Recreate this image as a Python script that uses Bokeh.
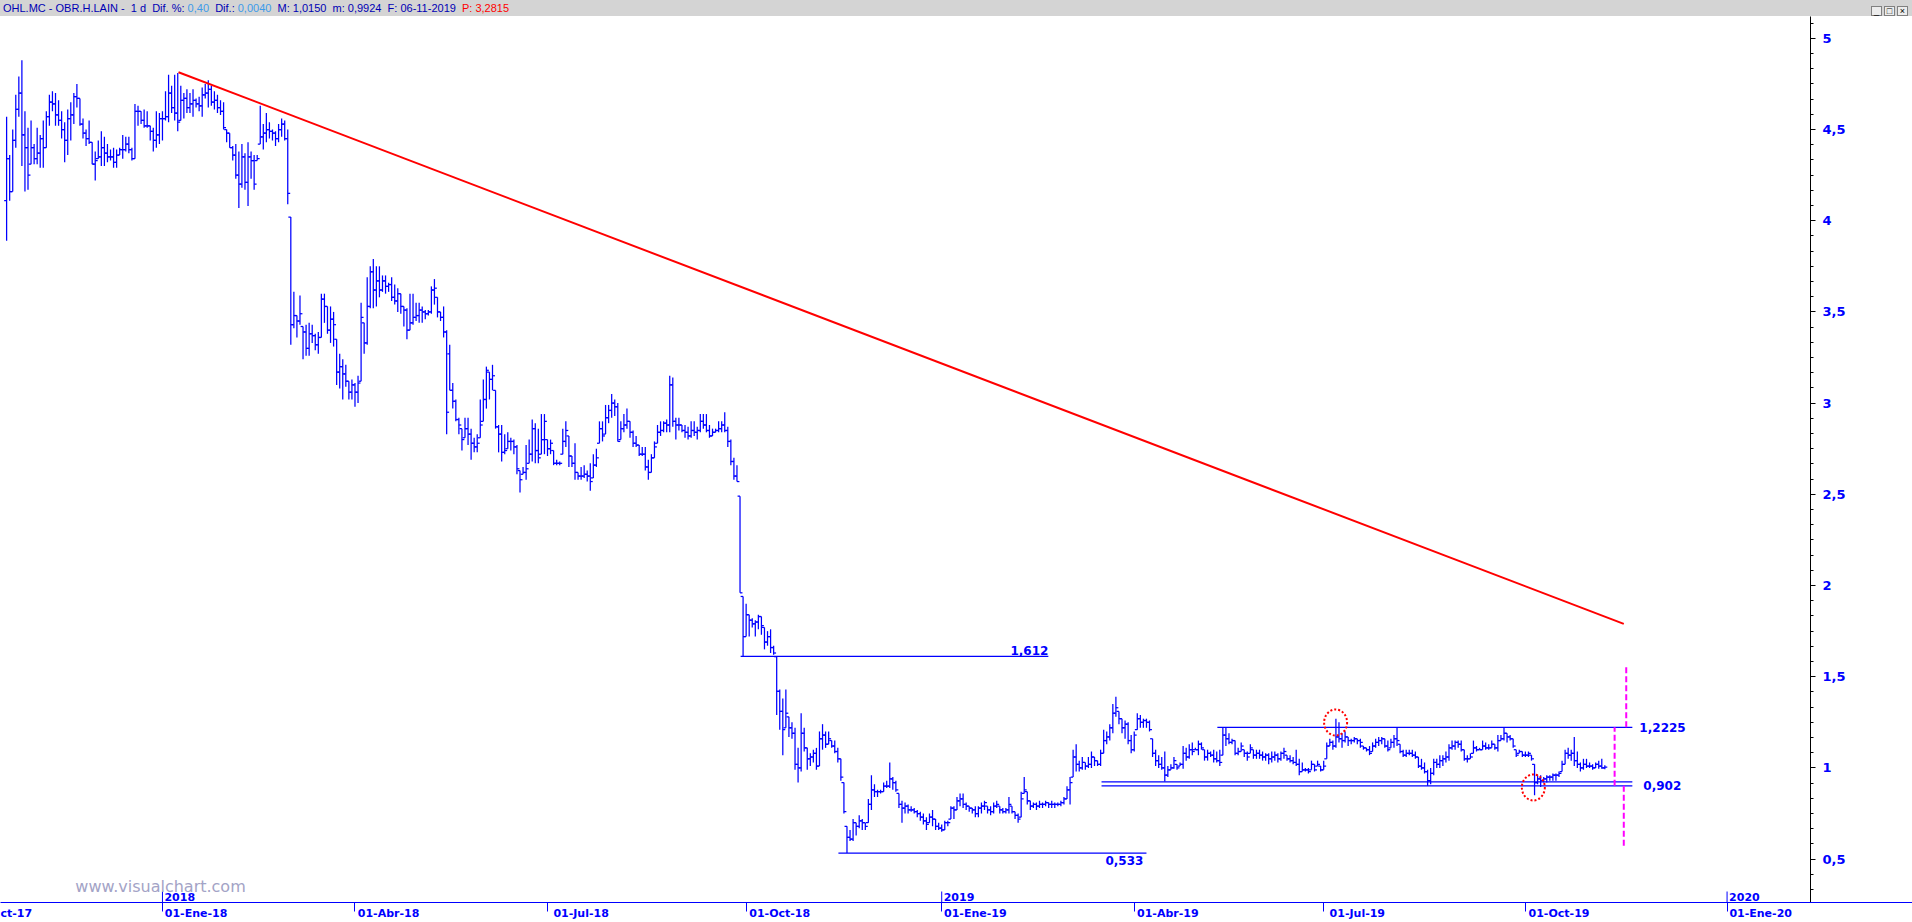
import numpy as np
import pandas as pd
from bokeh.plotting import figure
from bokeh.models import ColumnDataSource, Range1d, LinearAxis, FixedTicker, Div
from bokeh.layouts import column
from bokeh.embed import file_html
from bokeh.resources import INLINE
from bokeh.core.properties import value

# ---------------- data ----------------
first_day = "2017-10-18"
market_holidays = ["2017-12-25", "2017-12-26", "2018-01-01", "2018-03-30", "2018-04-02",
                   "2018-05-01", "2018-12-25", "2018-12-26", "2019-01-01", "2019-04-19",
                   "2019-04-22", "2019-05-01"]

opens = [
    4.11, 4.34, 4.16, 4.44, 4.61, 4.70, 4.47, 4.40, 4.31, 4.40,
    4.34, 4.37, 4.45, 4.40, 4.57, 4.65, 4.64, 4.58, 4.55, 4.50,
    4.44, 4.56, 4.58, 4.68, 4.67, 4.53, 4.48, 4.45, 4.43, 4.31,
    4.34, 4.35, 4.40, 4.37, 4.35, 4.35, 4.32, 4.36, 4.39, 4.39,
    4.42, 4.39, 4.34, 4.60, 4.60, 4.55, 4.52, 4.52, 4.49, 4.44,
    4.47, 4.56, 4.56, 4.57, 4.70, 4.62, 4.59, 4.55, 4.66, 4.67,
    4.62, 4.64, 4.66, 4.64, 4.63, 4.69, 4.70, 4.72, 4.65, 4.66,
    4.62, 4.60, 4.50, 4.48, 4.40, 4.36, 4.25, 4.20, 4.35, 4.21,
    4.35, 4.33, 4.33, 4.42, 4.46, 4.48, 4.50, 4.49, 4.48, 4.45,
    4.50, 4.53, 4.45, 4.02, 3.43, 3.48, 3.45, 3.42, 3.39, 3.30,
    3.38, 3.37, 3.32, 3.36, 3.57, 3.53, 3.40, 3.46, 3.35, 3.17,
    3.20, 3.16, 3.12, 3.06, 3.10, 3.06, 3.12, 3.44, 3.33, 3.53,
    3.72, 3.62, 3.67, 3.62, 3.67, 3.64, 3.65, 3.58, 3.56, 3.60,
    3.53, 3.51, 3.40, 3.44, 3.47, 3.48, 3.51, 3.50, 3.49, 3.50,
    3.62, 3.58, 3.50, 3.47, 3.39, 3.27, 3.07, 3.01, 2.91, 2.86,
    2.81, 2.86, 2.83, 2.78, 2.76, 2.81, 2.90, 3.02, 3.17, 3.13,
    3.07, 2.87, 2.83, 2.73, 2.75, 2.79, 2.79, 2.76, 2.63, 2.61,
    2.62, 2.67, 2.72, 2.86, 2.74, 2.72, 2.80, 2.80, 2.75, 2.74,
    2.67, 2.67, 2.72, 2.79, 2.82, 2.71, 2.67, 2.62, 2.60, 2.60,
    2.61, 2.60, 2.59, 2.66, 2.78, 2.86, 2.83, 2.92, 2.96, 3.00,
    2.98, 2.80, 2.86, 2.88, 2.90, 2.84, 2.78, 2.77, 2.72, 2.72,
    2.65, 2.62, 2.70, 2.78, 2.84, 2.85, 2.89, 2.88, 3.10, 2.90,
    2.88, 2.88, 2.85, 2.84, 2.82, 2.85, 2.84, 2.85, 2.90, 2.88,
    2.85, 2.82, 2.84, 2.85, 2.86, 2.88, 2.85, 2.79, 2.68, 2.60,
    2.49, 1.94, 1.72, 1.84, 1.81, 1.79, 1.80, 1.83, 1.77, 1.69,
    1.72, 1.66, 1.61, 1.42, 1.31, 1.22, 1.28, 1.22, 1.19, 1.02,
    1.00, 1.19, 1.11, 1.05, 1.06, 1.08, 1.01, 1.16, 1.18, 1.13,
    1.15, 1.12, 1.09, 1.05, 0.92, 0.68, 0.62, 0.61, 0.70, 0.68,
    0.71, 0.70, 0.70, 0.80, 0.88, 0.87, 0.87, 0.87, 0.90, 0.90,
    0.94, 0.92, 0.86, 0.80, 0.78, 0.79, 0.77, 0.77, 0.76, 0.75,
    0.73, 0.71, 0.70, 0.73, 0.72, 0.68, 0.67, 0.66, 0.70, 0.72,
    0.78, 0.77, 0.82, 0.83, 0.80, 0.79, 0.78, 0.77, 0.75, 0.78,
    0.79, 0.79, 0.77, 0.76, 0.79, 0.79, 0.77, 0.76, 0.77, 0.79,
    0.76, 0.74, 0.73, 0.86, 0.87, 0.82, 0.79, 0.80, 0.79, 0.80,
    0.80, 0.81, 0.80, 0.80, 0.80, 0.80, 0.81, 0.83, 0.88, 0.95,
    1.06, 1.02, 1.00, 1.03, 1.01, 1.02, 1.06, 1.04, 1.02, 1.08,
    1.15, 1.17, 1.22, 1.30, 1.31, 1.27, 1.22, 1.24, 1.15, 1.10,
    1.21, 1.27, 1.25, 1.26, 1.25, 1.16, 1.08, 1.04, 1.02, 1.00,
    0.96, 0.99, 1.00, 1.02, 1.01, 1.02, 1.08, 1.06, 1.10, 1.10,
    1.10, 1.13, 1.10, 1.06, 1.08, 1.07, 1.05, 1.04, 1.07, 1.18,
    1.16, 1.14, 1.15, 1.08, 1.09, 1.10, 1.08, 1.08, 1.10, 1.07,
    1.08, 1.07, 1.06, 1.07, 1.05, 1.06, 1.07, 1.05, 1.08, 1.07,
    1.05, 1.04, 1.03, 1.02, 0.98, 0.99, 0.99, 0.99, 1.02, 1.01,
    1.01, 0.99, 1.05, 1.12, 1.14, 1.12, 1.17, 1.16, 1.15, 1.17,
    1.15, 1.15, 1.16, 1.15, 1.12, 1.11, 1.10, 1.09, 1.12, 1.14,
    1.15, 1.16, 1.12, 1.11, 1.14, 1.16, 1.13, 1.09, 1.07, 1.08,
    1.08, 1.07, 1.06, 1.01, 1.00, 0.98, 0.93, 0.97, 1.03, 1.02,
    1.04, 1.05, 1.06, 1.11, 1.12, 1.14, 1.13, 1.10, 1.05, 1.05,
    1.08, 1.11, 1.10, 1.10, 1.12, 1.11, 1.11, 1.13, 1.11, 1.15,
    1.16, 1.19, 1.17, 1.16, 1.10, 1.08, 1.09, 1.07, 1.07, 1.07,
    1.02, 0.92, 0.94, 0.93, 0.94, 0.95, 0.95, 0.96, 0.96, 0.98,
    1.02, 1.08, 1.07, 1.08, 1.04, 1.02, 1.00, 1.02, 1.01, 1.01,
    1.00, 1.02, 1.01, 1.00,
]

highs = [
    4.57, 4.36, 4.50, 4.69, 4.79, 4.88, 4.60, 4.51, 4.55, 4.42,
    4.51, 4.47, 4.55, 4.60, 4.69, 4.71, 4.70, 4.66, 4.60, 4.54,
    4.61, 4.65, 4.70, 4.75, 4.67, 4.56, 4.50, 4.55, 4.43, 4.38,
    4.44, 4.49, 4.46, 4.42, 4.39, 4.40, 4.39, 4.40, 4.47, 4.46,
    4.46, 4.40, 4.64, 4.63, 4.60, 4.61, 4.60, 4.52, 4.51, 4.60,
    4.59, 4.60, 4.71, 4.80, 4.74, 4.80, 4.81, 4.74, 4.70, 4.72,
    4.70, 4.72, 4.67, 4.68, 4.73, 4.75, 4.77, 4.74, 4.71, 4.69,
    4.66, 4.65, 4.50, 4.48, 4.41, 4.42, 4.38, 4.42, 4.37, 4.43,
    4.38, 4.36, 4.36, 4.63, 4.53, 4.59, 4.54, 4.50, 4.49, 4.53,
    4.56, 4.55, 4.50, 4.02, 3.61, 3.48, 3.59, 3.42, 3.43, 3.44,
    3.43, 3.38, 3.39, 3.60, 3.60, 3.53, 3.53, 3.50, 3.35, 3.27,
    3.24, 3.21, 3.12, 3.13, 3.11, 3.15, 3.55, 3.44, 3.69, 3.75,
    3.79, 3.75, 3.75, 3.70, 3.70, 3.66, 3.69, 3.65, 3.63, 3.60,
    3.53, 3.52, 3.60, 3.60, 3.55, 3.55, 3.53, 3.51, 3.51, 3.64,
    3.68, 3.58, 3.50, 3.53, 3.40, 3.32, 3.11, 3.02, 2.92, 2.86,
    2.92, 2.92, 2.86, 2.81, 2.83, 3.02, 3.13, 3.20, 3.17, 3.21,
    3.07, 2.88, 2.88, 2.83, 2.84, 2.81, 2.80, 2.77, 2.63, 2.65,
    2.77, 2.80, 2.91, 2.89, 2.86, 2.94, 2.94, 2.80, 2.80, 2.74,
    2.69, 2.68, 2.86, 2.90, 2.82, 2.71, 2.78, 2.62, 2.65, 2.66,
    2.63, 2.67, 2.72, 2.75, 2.90, 2.90, 2.99, 2.99, 3.05, 3.02,
    3.00, 2.90, 2.94, 2.97, 2.90, 2.85, 2.82, 2.77, 2.76, 2.76,
    2.69, 2.72, 2.79, 2.88, 2.90, 2.90, 2.91, 3.15, 3.14, 2.92,
    2.92, 2.88, 2.88, 2.87, 2.90, 2.90, 2.87, 2.94, 2.94, 2.94,
    2.88, 2.86, 2.86, 2.90, 2.90, 2.95, 2.87, 2.80, 2.70, 2.66,
    2.49, 1.94, 1.90, 1.84, 1.82, 1.81, 1.84, 1.83, 1.77, 1.75,
    1.76, 1.67, 1.61, 1.43, 1.38, 1.43, 1.28, 1.25, 1.22, 1.11,
    1.30, 1.22, 1.11, 1.08, 1.10, 1.11, 1.20, 1.24, 1.20, 1.20,
    1.15, 1.15, 1.11, 1.05, 0.92, 0.68, 0.66, 0.72, 0.70, 0.74,
    0.72, 0.70, 0.83, 0.96, 0.91, 0.88, 0.88, 0.92, 0.93, 1.03,
    0.95, 0.93, 0.86, 0.82, 0.81, 0.80, 0.79, 0.78, 0.77, 0.76,
    0.75, 0.73, 0.75, 0.77, 0.72, 0.70, 0.69, 0.71, 0.71, 0.79,
    0.79, 0.84, 0.86, 0.86, 0.81, 0.79, 0.78, 0.79, 0.79, 0.81,
    0.82, 0.79, 0.79, 0.81, 0.82, 0.79, 0.78, 0.78, 0.84, 0.79,
    0.76, 0.75, 0.87, 0.95, 0.87, 0.82, 0.81, 0.81, 0.82, 0.81,
    0.82, 0.81, 0.82, 0.81, 0.81, 0.82, 0.84, 0.90, 0.95, 1.10,
    1.13, 1.04, 1.06, 1.03, 1.06, 1.09, 1.06, 1.04, 1.10, 1.21,
    1.20, 1.24, 1.35, 1.39, 1.31, 1.27, 1.26, 1.25, 1.18, 1.20,
    1.30, 1.29, 1.27, 1.27, 1.26, 1.16, 1.10, 1.07, 1.06, 1.09,
    1.01, 1.02, 1.06, 1.02, 1.03, 1.12, 1.11, 1.13, 1.14, 1.11,
    1.15, 1.14, 1.10, 1.10, 1.09, 1.10, 1.09, 1.10, 1.2225, 1.22,
    1.19, 1.16, 1.15, 1.11, 1.14, 1.10, 1.09, 1.13, 1.10, 1.10,
    1.10, 1.09, 1.08, 1.08, 1.09, 1.09, 1.08, 1.09, 1.11, 1.07,
    1.07, 1.06, 1.10, 1.05, 1.03, 1.00, 1.00, 1.04, 1.02, 1.04,
    1.01, 1.04, 1.14, 1.16, 1.15, 1.27, 1.25, 1.19, 1.20, 1.17,
    1.16, 1.17, 1.16, 1.16, 1.12, 1.11, 1.12, 1.14, 1.16, 1.17,
    1.17, 1.16, 1.15, 1.16, 1.18, 1.2225, 1.13, 1.10, 1.10, 1.10,
    1.10, 1.09, 1.06, 1.05, 1.03, 0.99, 1.00, 1.05, 1.05, 1.07,
    1.07, 1.09, 1.13, 1.15, 1.15, 1.15, 1.15, 1.10, 1.07, 1.08,
    1.15, 1.12, 1.11, 1.15, 1.14, 1.13, 1.15, 1.13, 1.18, 1.18,
    1.2225, 1.19, 1.18, 1.16, 1.10, 1.10, 1.09, 1.09, 1.09, 1.07,
    1.02, 0.96, 0.96, 0.95, 0.96, 0.96, 0.97, 0.97, 0.98, 1.04,
    1.10, 1.11, 1.10, 1.17, 1.09, 1.03, 1.05, 1.05, 1.03, 1.02,
    1.03, 1.04, 1.05, 1.015,
]

lows = [
    3.89, 4.11, 4.16, 4.40, 4.57, 4.30, 4.16, 4.17, 4.31, 4.31,
    4.31, 4.29, 4.29, 4.40, 4.52, 4.60, 4.52, 4.52, 4.45, 4.32,
    4.36, 4.44, 4.53, 4.62, 4.52, 4.45, 4.41, 4.42, 4.31, 4.22,
    4.34, 4.30, 4.30, 4.32, 4.33, 4.29, 4.29, 4.36, 4.34, 4.38,
    4.37, 4.33, 4.34, 4.52, 4.53, 4.51, 4.51, 4.44, 4.38, 4.40,
    4.42, 4.44, 4.55, 4.54, 4.59, 4.55, 4.49, 4.55, 4.56, 4.59,
    4.59, 4.57, 4.62, 4.60, 4.57, 4.67, 4.62, 4.63, 4.61, 4.59,
    4.58, 4.50, 4.43, 4.40, 4.33, 4.23, 4.07, 4.18, 4.17, 4.08,
    4.23, 4.17, 4.33, 4.42, 4.39, 4.43, 4.45, 4.44, 4.41, 4.43,
    4.46, 4.44, 4.09, 3.32, 3.41, 3.36, 3.43, 3.24, 3.26, 3.26,
    3.33, 3.29, 3.27, 3.36, 3.44, 3.38, 3.33, 3.31, 3.10, 3.08,
    3.02, 3.09, 3.02, 3.02, 2.98, 3.00, 3.12, 3.27, 3.32, 3.52,
    3.52, 3.53, 3.58, 3.61, 3.60, 3.61, 3.56, 3.54, 3.50, 3.49,
    3.42, 3.35, 3.40, 3.43, 3.45, 3.44, 3.44, 3.46, 3.48, 3.49,
    3.54, 3.47, 3.45, 3.36, 2.83, 3.07, 2.97, 2.90, 2.83, 2.74,
    2.81, 2.77, 2.69, 2.73, 2.73, 2.81, 2.90, 2.97, 3.02, 3.07,
    2.86, 2.73, 2.68, 2.72, 2.75, 2.74, 2.72, 2.61, 2.51, 2.61,
    2.58, 2.67, 2.68, 2.67, 2.67, 2.72, 2.72, 2.71, 2.72, 2.66,
    2.66, 2.66, 2.72, 2.76, 2.65, 2.65, 2.58, 2.58, 2.58, 2.59,
    2.57, 2.52, 2.59, 2.65, 2.78, 2.79, 2.83, 2.89, 2.92, 2.93,
    2.79, 2.80, 2.84, 2.86, 2.81, 2.76, 2.76, 2.71, 2.71, 2.63,
    2.58, 2.62, 2.70, 2.78, 2.82, 2.84, 2.84, 2.84, 2.87, 2.80,
    2.85, 2.84, 2.81, 2.80, 2.81, 2.82, 2.80, 2.84, 2.86, 2.84,
    2.81, 2.82, 2.84, 2.84, 2.84, 2.84, 2.76, 2.66, 2.58, 2.57,
    1.96, 1.612, 1.72, 1.72, 1.77, 1.72, 1.76, 1.73, 1.65, 1.67,
    1.63, 1.62, 1.29, 1.21, 1.07, 1.22, 1.17, 1.16, 0.99, 0.92,
    0.98, 1.09, 0.99, 1.01, 1.03, 0.99, 1.01, 1.10, 1.11, 1.13,
    1.11, 1.08, 1.03, 0.93, 0.75, 0.533, 0.60, 0.60, 0.63, 0.67,
    0.66, 0.66, 0.70, 0.77, 0.84, 0.84, 0.86, 0.87, 0.89, 0.89,
    0.88, 0.87, 0.78, 0.70, 0.75, 0.75, 0.76, 0.75, 0.73, 0.71,
    0.69, 0.66, 0.70, 0.68, 0.66, 0.66, 0.65, 0.66, 0.68, 0.72,
    0.72, 0.77, 0.79, 0.78, 0.77, 0.76, 0.75, 0.73, 0.73, 0.75,
    0.77, 0.75, 0.74, 0.75, 0.78, 0.75, 0.75, 0.75, 0.75, 0.75,
    0.72, 0.70, 0.73, 0.86, 0.80, 0.77, 0.78, 0.77, 0.78, 0.78,
    0.79, 0.78, 0.78, 0.78, 0.79, 0.79, 0.80, 0.83, 0.80, 0.95,
    0.98, 0.98, 0.99, 0.99, 1.00, 1.00, 1.01, 1.01, 1.01, 1.08,
    1.13, 1.15, 1.19, 1.28, 1.24, 1.19, 1.16, 1.13, 1.08, 1.09,
    1.21, 1.22, 1.22, 1.22, 1.20, 1.06, 1.01, 1.00, 0.99, 0.925,
    0.95, 0.99, 0.995, 0.99, 1.01, 0.995, 1.04, 1.05, 1.07, 1.10,
    1.07, 1.10, 1.04, 1.04, 1.06, 1.03, 1.03, 1.01, 1.07, 1.12,
    1.13, 1.13, 1.07, 1.07, 1.09, 1.06, 1.04, 1.08, 1.05, 1.05,
    1.05, 1.04, 1.04, 1.02, 1.03, 1.04, 1.03, 1.04, 1.05, 1.04,
    1.03, 1.02, 1.01, 0.96, 0.98, 0.98, 0.97, 0.99, 0.98, 1.01,
    0.98, 0.99, 1.05, 1.12, 1.10, 1.11, 1.14, 1.11, 1.14, 1.12,
    1.13, 1.14, 1.13, 1.11, 1.10, 1.09, 1.07, 1.09, 1.11, 1.12,
    1.13, 1.11, 1.09, 1.11, 1.11, 1.12, 1.08, 1.06, 1.06, 1.07,
    1.06, 1.05, 1.00, 0.99, 0.97, 0.902, 0.91, 0.96, 1.00, 1.00,
    1.01, 1.03, 1.04, 1.10, 1.10, 1.11, 1.09, 1.04, 1.03, 1.05,
    1.08, 1.09, 1.10, 1.10, 1.10, 1.10, 1.11, 1.10, 1.09, 1.15,
    1.15, 1.14, 1.15, 1.11, 1.06, 1.08, 1.06, 1.06, 1.06, 1.04,
    0.85, 0.91, 0.895, 0.92, 0.92, 0.93, 0.93, 0.93, 0.95, 0.98,
    1.02, 1.05, 1.04, 1.01, 1.00, 0.98, 0.99, 1.00, 1.00, 0.99,
    1.00, 0.995, 0.995, 0.9924,
]

closes = [
    4.34, 4.16, 4.44, 4.61, 4.70, 4.47, 4.40, 4.25, 4.40, 4.34,
    4.37, 4.45, 4.40, 4.57, 4.65, 4.64, 4.58, 4.55, 4.50, 4.44,
    4.56, 4.58, 4.68, 4.67, 4.53, 4.48, 4.45, 4.43, 4.31, 4.33,
    4.35, 4.40, 4.37, 4.35, 4.35, 4.32, 4.36, 4.39, 4.39, 4.42,
    4.39, 4.34, 4.60, 4.60, 4.55, 4.52, 4.52, 4.49, 4.44, 4.47,
    4.56, 4.56, 4.57, 4.70, 4.62, 4.59, 4.54, 4.66, 4.67, 4.62,
    4.64, 4.66, 4.64, 4.63, 4.69, 4.70, 4.72, 4.65, 4.66, 4.62,
    4.60, 4.51, 4.48, 4.40, 4.36, 4.25, 4.20, 4.35, 4.21, 4.35,
    4.33, 4.20, 4.34, 4.46, 4.48, 4.50, 4.49, 4.48, 4.45, 4.50,
    4.53, 4.45, 4.15, 3.43, 3.48, 3.45, 3.49, 3.39, 3.30, 3.38,
    3.37, 3.32, 3.36, 3.57, 3.53, 3.40, 3.46, 3.43, 3.17, 3.20,
    3.16, 3.12, 3.06, 3.10, 3.06, 3.11, 3.47, 3.33, 3.53, 3.72,
    3.62, 3.67, 3.62, 3.67, 3.64, 3.65, 3.58, 3.56, 3.60, 3.53,
    3.51, 3.40, 3.44, 3.47, 3.48, 3.51, 3.50, 3.49, 3.50, 3.62,
    3.63, 3.50, 3.47, 3.39, 2.95, 3.07, 3.01, 2.91, 2.88, 2.80,
    2.86, 2.83, 2.78, 2.76, 2.78, 2.88, 3.02, 3.18, 3.13, 3.15,
    2.87, 2.83, 2.73, 2.74, 2.79, 2.79, 2.76, 2.64, 2.58, 2.62,
    2.64, 2.72, 2.86, 2.74, 2.70, 2.80, 2.90, 2.75, 2.78, 2.67,
    2.67, 2.67, 2.79, 2.85, 2.71, 2.67, 2.62, 2.60, 2.60, 2.61,
    2.60, 2.57, 2.66, 2.70, 2.86, 2.82, 2.92, 2.96, 3.00, 2.98,
    2.79, 2.86, 2.88, 2.90, 2.84, 2.78, 2.77, 2.72, 2.72, 2.65,
    2.62, 2.70, 2.76, 2.84, 2.85, 2.89, 2.88, 3.10, 2.90, 2.88,
    2.88, 2.85, 2.84, 2.82, 2.85, 2.84, 2.85, 2.90, 2.88, 2.85,
    2.82, 2.84, 2.85, 2.86, 2.88, 2.85, 2.79, 2.68, 2.60, 2.57,
    1.96, 1.72, 1.84, 1.81, 1.79, 1.80, 1.83, 1.78, 1.69, 1.72,
    1.66, 1.63, 1.42, 1.31, 1.21, 1.30, 1.22, 1.19, 1.02, 1.00,
    1.19, 1.11, 1.05, 1.06, 1.08, 1.01, 1.16, 1.18, 1.13, 1.16,
    1.12, 1.09, 1.05, 0.95, 0.76, 0.62, 0.61, 0.70, 0.68, 0.71,
    0.70, 0.68, 0.80, 0.88, 0.87, 0.87, 0.87, 0.90, 0.90, 0.94,
    0.92, 0.88, 0.80, 0.78, 0.79, 0.77, 0.77, 0.76, 0.75, 0.73,
    0.71, 0.69, 0.73, 0.72, 0.68, 0.67, 0.66, 0.70, 0.70, 0.78,
    0.77, 0.82, 0.83, 0.80, 0.79, 0.78, 0.77, 0.75, 0.78, 0.79,
    0.81, 0.77, 0.76, 0.79, 0.80, 0.77, 0.76, 0.77, 0.80, 0.76,
    0.74, 0.72, 0.83, 0.88, 0.82, 0.79, 0.80, 0.79, 0.80, 0.80,
    0.81, 0.80, 0.80, 0.80, 0.80, 0.81, 0.83, 0.88, 0.92, 1.06,
    1.02, 1.00, 1.03, 1.01, 1.02, 1.06, 1.04, 1.02, 1.08, 1.15,
    1.17, 1.22, 1.30, 1.33, 1.27, 1.22, 1.24, 1.15, 1.10, 1.18,
    1.27, 1.25, 1.26, 1.25, 1.21, 1.08, 1.04, 1.02, 1.00, 0.96,
    0.99, 1.00, 1.04, 1.00, 1.02, 1.08, 1.06, 1.10, 1.09, 1.10,
    1.13, 1.11, 1.06, 1.08, 1.07, 1.05, 1.04, 1.03, 1.18, 1.16,
    1.14, 1.15, 1.08, 1.09, 1.12, 1.08, 1.06, 1.11, 1.07, 1.08,
    1.07, 1.06, 1.07, 1.05, 1.06, 1.07, 1.05, 1.08, 1.09, 1.05,
    1.04, 1.03, 1.02, 0.98, 0.99, 0.99, 0.98, 1.02, 0.99, 1.02,
    0.99, 1.01, 1.12, 1.14, 1.12, 1.17, 1.16, 1.15, 1.17, 1.15,
    1.15, 1.16, 1.15, 1.14, 1.11, 1.10, 1.08, 1.12, 1.14, 1.15,
    1.16, 1.12, 1.10, 1.14, 1.16, 1.15, 1.09, 1.07, 1.08, 1.08,
    1.07, 1.06, 1.01, 1.00, 0.98, 0.93, 0.97, 1.03, 1.02, 1.04,
    1.05, 1.06, 1.11, 1.12, 1.14, 1.13, 1.10, 1.05, 1.05, 1.06,
    1.11, 1.10, 1.10, 1.12, 1.11, 1.11, 1.13, 1.11, 1.15, 1.16,
    1.19, 1.17, 1.16, 1.12, 1.07, 1.09, 1.07, 1.07, 1.08, 1.05,
    0.92, 0.94, 0.93, 0.94, 0.95, 0.95, 0.96, 0.96, 0.97, 1.02,
    1.08, 1.07, 1.08, 1.04, 1.02, 1.00, 1.02, 1.01, 1.01, 1.00,
    1.02, 1.01, 1.00, 1.004,
]

# axis ticks / labels (the first one is cut by the window edge in the picture)
quarter_starts = ["2017-10-01", "2018-01-01", "2018-04-01", "2018-07-01", "2018-10-01",
                  "2019-01-01", "2019-04-01", "2019-07-01", "2019-10-01", "2020-01-01"]
quarter_labels = ["ct-17", "01-Ene-18", "01-Abr-18", "01-Jul-18", "01-Oct-18",
                  "01-Ene-19", "01-Abr-19", "01-Jul-19", "01-Oct-19", "01-Ene-20"]
year_starts = ["2018-01-01", "2019-01-01", "2020-01-01"]
year_labels = ["2018", "2019", "2020"]
y_tick_values = [0.5, 1, 1.5, 2, 2.5, 3, 3.5, 4, 4.5, 5]
y_tick_labels = ["0,5", "1", "1,5", "2", "2,5", "3", "3,5", "4", "4,5", "5"]

# drawn studies (bar index, price)
trend_x = [56.25, 529.2]
trend_y = [4.814, 1.790]
level_y = [1.612, 0.533, 1.2225, 0.924, 0.902]
level_x0 = [240.2, 272.2, 396.2, 358.3, 358.3]
level_x1 = [340.9, 373.0, 532.0, 532.0, 532.0]
proj_x = [530.0, 526.2, 529.2]
proj_y0 = [1.2225, 0.902, 0.902]
proj_y1 = [1.553, 1.2225, 0.573]
circle_x = [434.9, 499.6]
circle_y = [1.249, 0.893]

header_symbol = "OHL.MC - OBR.H.LAIN -  1 d"
header_difpct = "0,40"
header_dif = "0,0040"
header_rest = "M: 1,0150  m: 0,9924  F: 06-11-2019"
header_p = "P: 3,2815"

# ---------------- calendar -> bar index ----------------
cal = pd.bdate_range("2017-10-02", "2020-02-28", freq="C", holidays=market_holidays)
start_pos = int(cal.searchsorted(pd.Timestamp(first_day)))


def day_index(d):
    return int(cal.searchsorted(pd.Timestamp(d))) - start_pos


q_idx = [day_index(d) for d in quarter_starts]
yr_idx = [day_index(d) for d in year_starts]

BLUE = "#0000ff"
FONT = "DejaVu Sans"
X0, X1 = -2.0, 590.3
Y0, Y1 = 0.2623, 5.1195
FRAME_W, FRAME_H = 1810, 886
HEADER_H = 16
py = (Y1 - Y0) / FRAME_H  # price per pixel

p = figure(frame_width=FRAME_W, frame_height=FRAME_H,
           x_range=Range1d(X0, X1), y_range=Range1d(Y0, Y1),
           x_axis_type=None, y_axis_location="right",
           output_backend="svg", toolbar_location=None,
           min_border_left=0, min_border_top=0, min_border_right=102, min_border_bottom=0,
           outline_line_color=None, background_fill_color="white", border_fill_color="white")
p.grid.visible = False

# y axis (right)
yax = p.yaxis[0]
minor = list(np.round(np.arange(0.5 - 2 / 12, 5.12, 1 / 12), 5))
yax.ticker = FixedTicker(ticks=y_tick_values, minor_ticks=minor)
yax.major_label_overrides = dict(zip(y_tick_values, y_tick_labels))
yax.axis_line_color = "black"
yax.major_tick_line_color = "black"
yax.minor_tick_line_color = "black"
yax.major_tick_out = 5
yax.major_tick_in = 0
yax.minor_tick_out = 3
yax.minor_tick_in = 0
yax.major_label_standoff = 7
yax.major_label_text_font = FONT
yax.major_label_text_font_style = "bold"
yax.major_label_text_font_size = "13px"
yax.major_label_text_color = BLUE

# x axis: line + quarter ticks (no labels on this one)
ax1 = LinearAxis(ticker=FixedTicker(ticks=q_idx, minor_ticks=[]),
                 axis_line_color=BLUE, axis_line_width=1,
                 major_tick_line_color=BLUE, major_tick_out=9, major_tick_in=0,
                 minor_tick_line_color=None, major_label_text_font_size="1px",
                 major_label_text_color=None, major_label_standoff=0)
p.add_layout(ax1, "below")
# x axis labels, starting at their tick
shift = 11
lab_ticks = [q + shift for q in q_idx]
ax2 = LinearAxis(ticker=FixedTicker(ticks=lab_ticks, minor_ticks=[]),
                 major_label_overrides=dict(zip(lab_ticks, quarter_labels)),
                 axis_line_color=None, major_tick_line_color=None, minor_tick_line_color=None,
                 major_tick_out=0, major_tick_in=0, major_label_standoff=-5,
                 major_label_text_font=FONT, major_label_text_font_style="bold",
                 major_label_text_font_size="11px", major_label_text_color=BLUE)
p.add_layout(ax2, "below")

# OHLC bars
x = np.arange(len(closes))
src = ColumnDataSource(dict(x=x, xl=x - 0.8, xr=x + 0.8, o=opens, h=highs, l=lows, c=closes))
p.segment(x0="x", y0="l", x1="x", y1="h", source=src, line_color=BLUE, line_width=1.25)
p.segment(x0="xl", y0="o", x1="x", y1="o", source=src, line_color=BLUE, line_width=1.25)
p.segment(x0="x", y0="c", x1="xr", y1="c", source=src, line_color=BLUE, line_width=1.25)

# support / resistance levels
p.segment(x0=level_x0, y0=level_y, x1=level_x1, y1=level_y, line_color=BLUE, line_width=1.2)

lab_kw = dict(text_font=value(FONT), text_font_style="bold", text_font_size="12px", text_color=BLUE)
p.text(x=[level_x1[0]], y=[level_y[0]], text=["1,612"], text_align="right",
       text_baseline="bottom", y_offset=-1, **lab_kw)
p.text(x=[372.0], y=[level_y[1]], text=["0,533"], text_align="right",
       text_baseline="top", y_offset=3, **lab_kw)
p.text(x=[534.3, 535.6], y=[level_y[2], level_y[4]], text=["1,2225", "0,902"],
       text_align="left", text_baseline="middle", **lab_kw)

# trend line
p.line(x=trend_x, y=trend_y, line_color="#ff0000", line_width=2)

# measured-move projections
p.segment(x0=proj_x, y0=proj_y0, x1=proj_x, y1=proj_y1, line_color="#ff00ff",
          line_width=2, line_dash="6 3")

# highlight circles
p.ellipse(x=circle_x, y=circle_y, width=23, height=26, width_units="screen",
          height_units="screen", fill_color=None, line_color="#ff0000",
          line_width=2, line_dash="2 2")

# year markers on the axis line
p.segment(x0=yr_idx, y0=[Y0] * len(yr_idx), x1=yr_idx, y1=[Y0 + 11 * py] * len(yr_idx),
          line_color=BLUE, line_width=1)
p.text(x=yr_idx, y=[Y0] * len(yr_idx), text=year_labels, x_offset=2, y_offset=-2,
       text_align="left", text_baseline="bottom", text_font=value(FONT),
       text_font_style="bold", text_font_size="11px", text_color=BLUE)

# watermark
p.text(x=[22.5], y=[Y0 + 16 * py], text=["www.visualchart.com"], text_align="left",
       text_baseline="middle", text_font=value(FONT), text_font_size="16px",
       text_color="#a3a3c6")

# window header (+ the time-axis line continuing under the price scale)
dark, light, red = "#0000b4", "#3d9be9", "#ff0000"
btn = ("display:inline-block;width:11px;height:10px;margin-left:2px;border:1px solid #808080;"
       "background:#ececec;font-size:9px;line-height:9px;text-align:center;color:#000;")
header_html = (
    f'<div style="position:relative;width:1912px;height:{HEADER_H}px;background:#d4d4d4;'
    "font-family:'Liberation Sans',Arial,sans-serif;font-size:11px;line-height:16px;"
    'white-space:pre;">'
    '<span style="position:absolute;left:3px;top:0px;">'
    f'<span style="color:{dark}">{header_symbol}  Dif. %: </span>'
    f'<span style="color:{light}">{header_difpct}</span>'
    f'<span style="color:{dark}">  Dif.: </span>'
    f'<span style="color:{light}">{header_dif}</span>'
    f'<span style="color:{dark}">  {header_rest}  </span>'
    f'<span style="color:{red}">{header_p}</span></span>'
    '<span style="position:absolute;left:1869px;top:2px;">'
    f'<span style="{btn}">_</span><span style="{btn}">&#9633;</span>'
    f'<span style="{btn}">&#215;</span></span>'
    f'<div style="position:absolute;left:{FRAME_W}px;top:{HEADER_H + FRAME_H}px;'
    f'width:{1912 - FRAME_W}px;height:1px;background:{BLUE};z-index:50;"></div>'
    '</div>'
)
header = Div(text=header_html, width=1912, height=HEADER_H, margin=0,
             styles={"overflow": "visible", "z-index": "50"})

page = column(header, p, spacing=0,
              styles={"position": "absolute", "left": "0px", "top": "0px"})

open("out.html", "w").write(file_html(page, INLINE))
